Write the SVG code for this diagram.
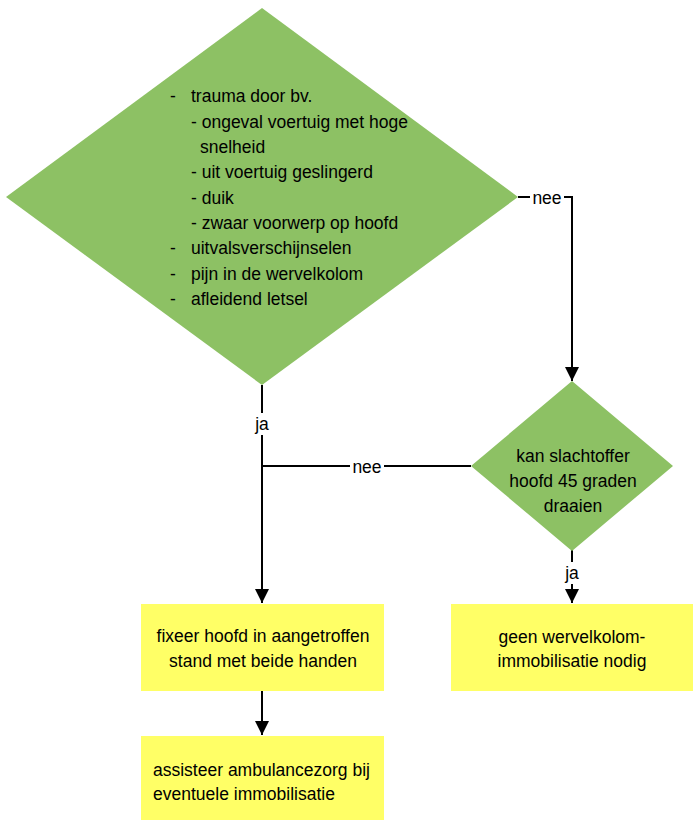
<svg xmlns="http://www.w3.org/2000/svg" width="696" height="820" viewBox="0 0 696 820">
<style>
.d{fill:#8DC164;stroke:none}
.b{fill:#FFFF66;stroke:none}
.t{font-family:"Liberation Sans",Arial,sans-serif;font-size:17.5px;fill:#000}
.c{text-anchor:middle}
.e{fill:none;stroke:#000;stroke-width:2}
.lb{fill:#fff}
</style>
<defs>
<marker id="ah" viewBox="0 0 14 14" refX="14" refY="7" markerWidth="14" markerHeight="14" markerUnits="userSpaceOnUse" orient="auto">
<path d="M0,0 L14,7 L0,14 z" fill="#000"/>
</marker>
</defs>
<rect width="696" height="820" fill="#fff"/>
<g id="connectors">
<path class="e" d="M518,197 H572 V381" marker-end="url(#ah)"/>
<path class="e" d="M262,385 V603" marker-end="url(#ah)"/>
<path class="e" d="M471,466 H262"/>
<path class="e" d="M572,550 V603" marker-end="url(#ah)"/>
<path class="e" d="M262,690 V735" marker-end="url(#ah)"/>
<rect class="lb" x="530" y="188" width="34" height="20"/>
<text class="t c" x="547" y="204">nee</text>
<rect class="lb" x="253" y="413" width="18" height="22"/>
<text class="t c" x="262" y="430">ja</text>
<rect class="lb" x="350" y="457" width="34" height="18"/>
<text class="t c" x="367" y="473">nee</text>
<rect class="lb" x="563" y="562" width="18" height="22"/>
<text class="t c" x="572" y="579">ja</text>
</g>
<g id="q1">
<polygon class="d" points="262,8 518,197 262,385 6,197"/>
<text class="t" x="170" y="102">-</text>
<text class="t" x="191" y="102">trauma door bv.</text>
<text class="t" x="191" y="127.5">- ongeval voertuig met hoge</text>
<text class="t" x="200" y="153">snelheid</text>
<text class="t" x="191" y="178">- uit voertuig geslingerd</text>
<text class="t" x="191" y="203.5">- duik</text>
<text class="t" x="191" y="229">- zwaar voorwerp op hoofd</text>
<text class="t" x="170" y="254">-</text>
<text class="t" x="191" y="254">uitvalsverschijnselen</text>
<text class="t" x="170" y="279.5">-</text>
<text class="t" x="191" y="279.5">pijn in de wervelkolom</text>
<text class="t" x="170" y="305">-</text>
<text class="t" x="191" y="305">afleidend letsel</text>
</g>
<g id="q2">
<polygon class="d" points="572,381 673,466 572,551 471,466"/>
<text class="t c" x="573" y="462">kan slachtoffer</text>
<text class="t c" x="573" y="487">hoofd 45 graden</text>
<text class="t c" x="573" y="512">draaien</text>
</g>
<g id="fix">
<rect class="b" x="141" y="604" width="243" height="87"/>
<text class="t c" x="263" y="642">fixeer hoofd in aangetroffen</text>
<text class="t c" x="263" y="667">stand met beide handen</text>
</g>
<g id="geen">
<rect class="b" x="451" y="604" width="242" height="87"/>
<text class="t c" x="572" y="643">geen wervelkolom-</text>
<text class="t c" x="572" y="667">immobilisatie nodig</text>
</g>
<g id="assist">
<rect class="b" x="141" y="736" width="243" height="84"/>
<text class="t" x="153" y="776">assisteer ambulancezorg bij</text>
<text class="t" x="153" y="800">eventuele immobilisatie</text>
</g>
</svg>
